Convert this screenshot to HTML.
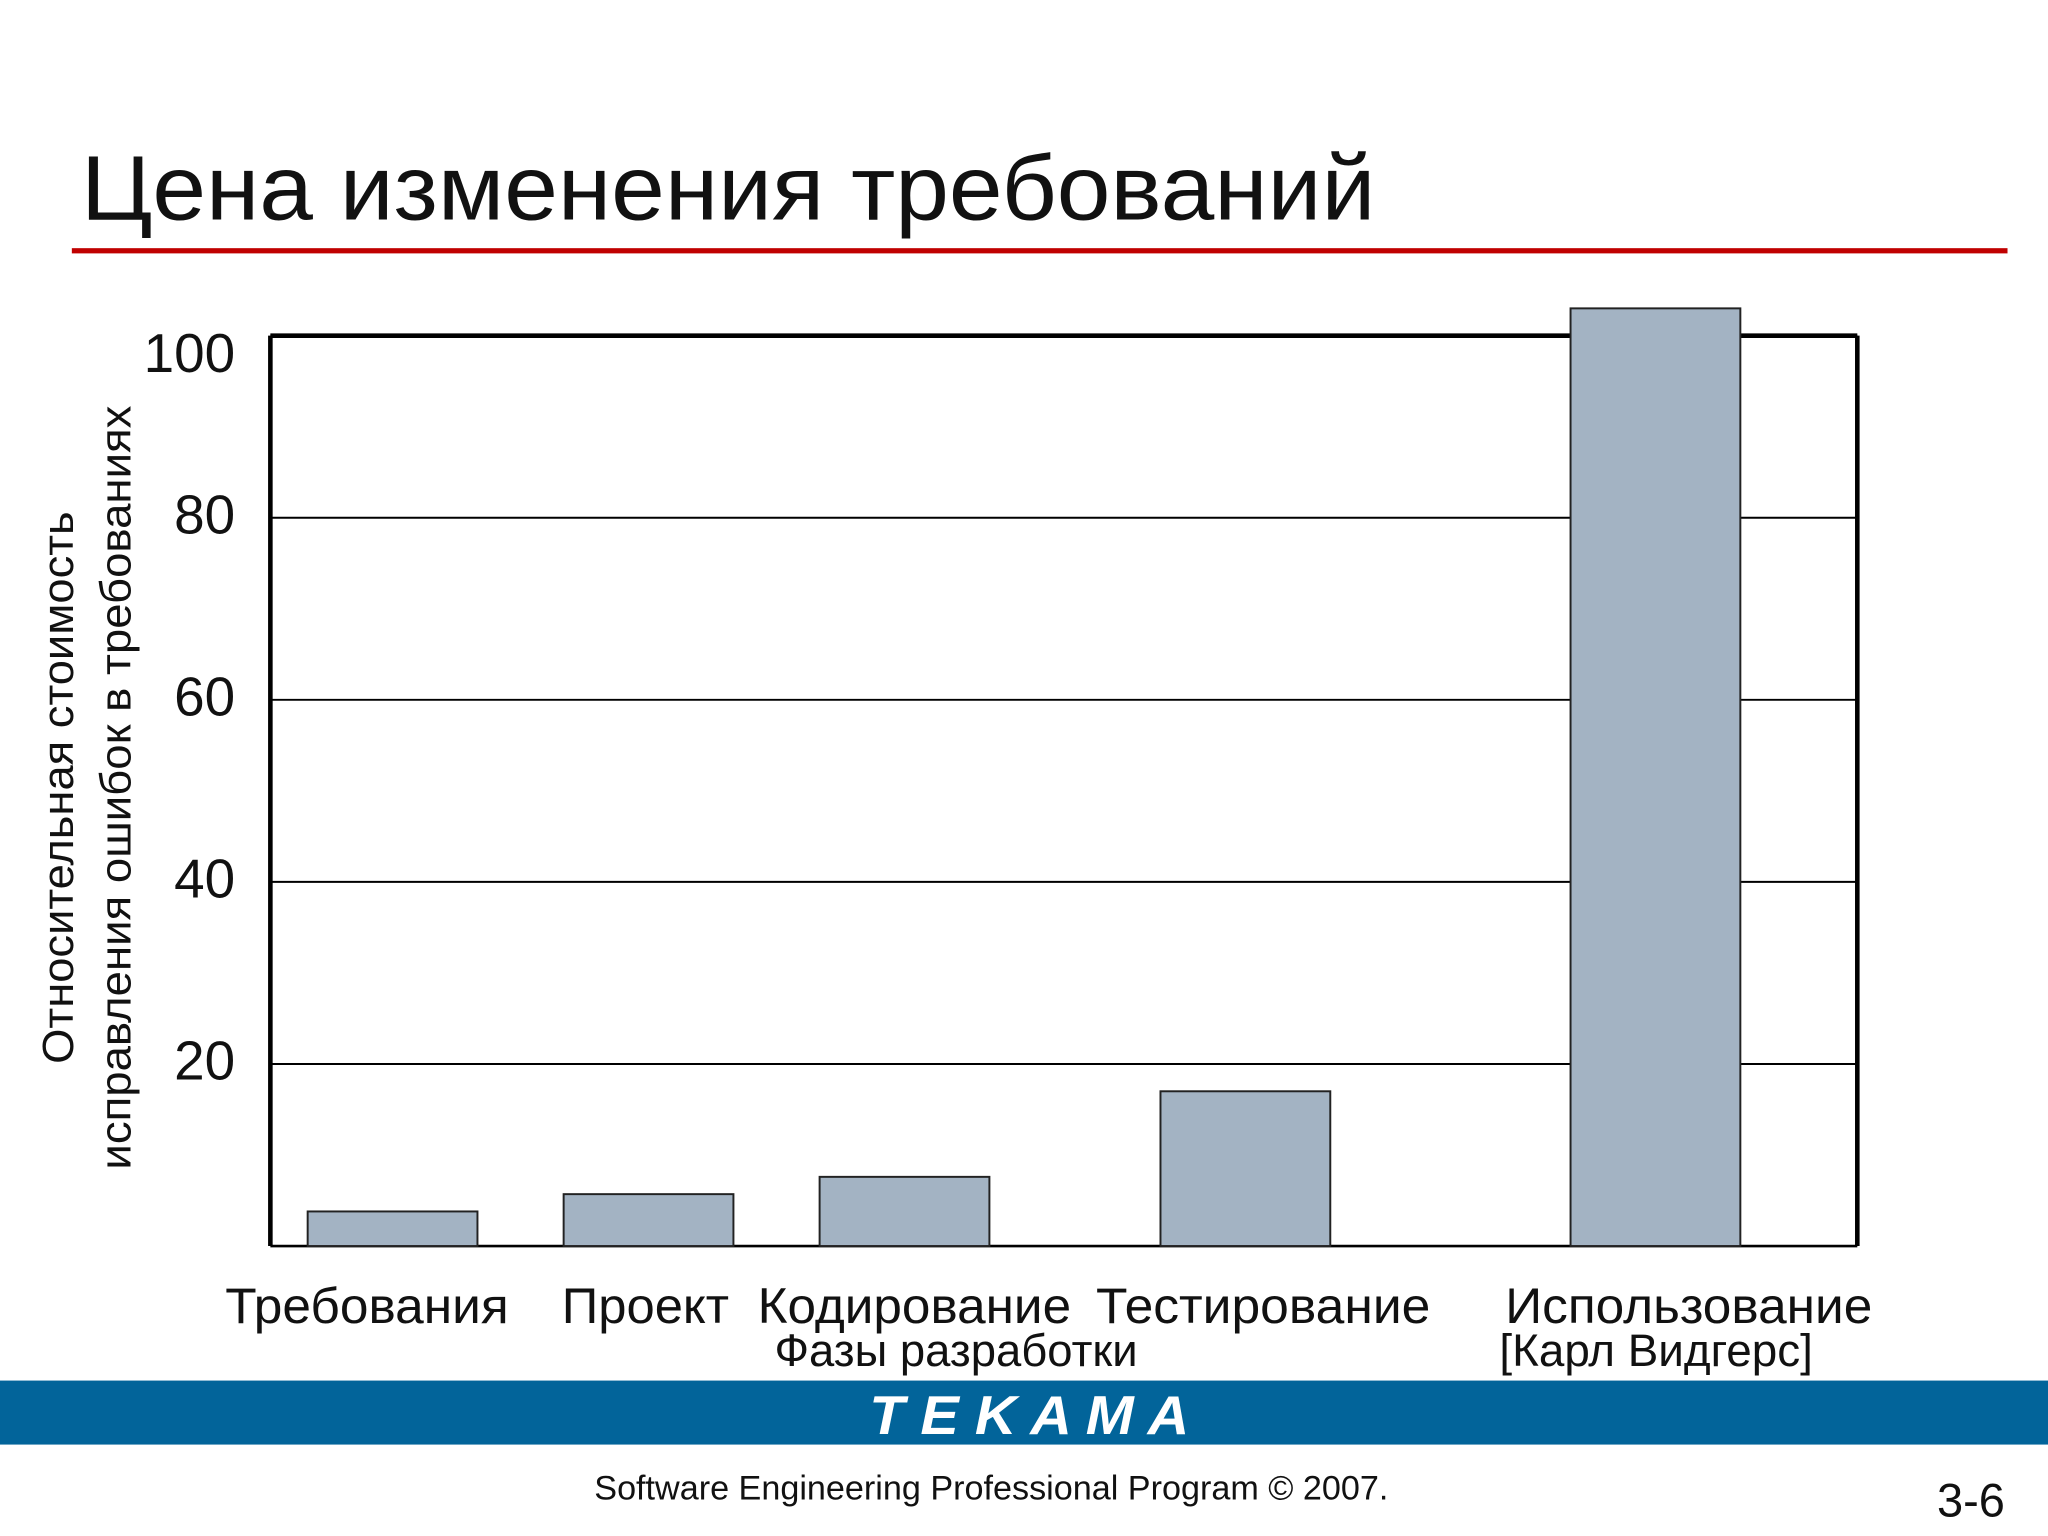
<!DOCTYPE html>
<html><head><meta charset="utf-8">
<style>
html,body{margin:0;padding:0;background:#fff;}
svg{display:block;font-family:"Liberation Sans",sans-serif;}
</style></head>
<body>
<svg id="chart" width="2048" height="1536" viewBox="0 0 1568 1176">
  <text x="62" y="168" font-size="70" fill="#111" textLength="991" lengthAdjust="spacingAndGlyphs">Цена изменения требований</text>
  <rect x="55" y="190" width="1482" height="4" fill="#c00000"/>
  <g id="grid"></g>
  <g id="frame"></g>
  <g id="bars"></g>
  <g id="yticks"></g>
  <g id="xlabels"></g>
  <g transform="translate(0,603) rotate(-90)">
    <text x="0" y="56" text-anchor="middle" font-size="33" fill="#111" textLength="423" lengthAdjust="spacingAndGlyphs">Относительная стоимость</text>
    <text x="0" y="100" text-anchor="middle" font-size="33" fill="#111" textLength="585" lengthAdjust="spacingAndGlyphs">исправления ошибок в требованиях</text>
  </g>
  <text x="732" y="1046" text-anchor="middle" font-size="35" fill="#111" textLength="278" lengthAdjust="spacingAndGlyphs">Фазы разработки</text>
  <text x="1268" y="1046" text-anchor="middle" font-size="35" fill="#111" textLength="240" lengthAdjust="spacingAndGlyphs">[Карл Видгерс]</text>
  <rect x="0" y="1057" width="1568" height="49" fill="#02649a"/>
  <text x="788" y="1098" text-anchor="middle" font-size="42" font-weight="bold" font-style="italic" fill="#fff" textLength="245" lengthAdjust="spacingAndGlyphs">T E K A M A</text>
  <text x="759" y="1148" text-anchor="middle" font-size="26" fill="#111" textLength="608" lengthAdjust="spacingAndGlyphs">Software Engineering Professional Program © 2007.</text>
  <text x="1535" y="1161" text-anchor="end" font-size="36" fill="#111">3-6</text>
</svg>
<script>
const categories = ["Требования","Проект","Кодирование","Тестирование","Использование"];
const values = [3.8, 5.7, 7.6, 17, 103];
const yTicks = [20, 40, 60, 80, 100];
const yTickLabels = ["20","40","60","80","100"];

const NS = "http://www.w3.org/2000/svg";
const plot = {left:207, right:1422, top:257, bottom:954};
const yMax = 100;
function yScale(v){ return plot.bottom - (v / yMax) * (plot.bottom - plot.top); }
const slotFrac = [0.0770, 0.2383, 0.3996, 0.6144, 0.8728];
const labelFrac = [0.0609, 0.2363, 0.4058, 0.6256, 0.8938];
const labelLen = [217, 128, 240, 256, 281];
function xScale(i){ return plot.left + slotFrac[i] * (plot.right - plot.left); }
const barW = 130;

function mk(tag, attrs, parent){
  const e = document.createElementNS(NS, tag);
  for (const k in attrs) e.setAttribute(k, attrs[k]);
  parent.appendChild(e); return e;
}
const grid = document.getElementById('grid');
yTicks.forEach(function(t){
  const l = mk('line', {x1:plot.left, x2:plot.right, y1:yScale(t), y2:yScale(t), stroke:'#000', 'stroke-width':1.5}, grid);
  
  
});
const yt = document.getElementById('yticks');
yTicks.forEach(function(t, i){
  const tx = mk('text', {x:180, y:yScale(t) + (t===100 ? 28 : 12), 'text-anchor':'end', 'font-size':42, fill:'#111'}, yt);
  tx.textContent = yTickLabels[i];
  
  
});
const fr = document.getElementById('frame');
const fl = [[plot.left,plot.top,plot.right,plot.top],[plot.left,plot.top,plot.left,plot.bottom],[plot.right,plot.top,plot.right,plot.bottom],[plot.left,plot.bottom,plot.right,plot.bottom]];
fl.forEach(function(s, i){
  const l = mk('line', {x1:s[0], y1:s[1], x2:s[2], y2:s[3], stroke:'#000', 'stroke-width':i===3?2:3.5}, fr);
  
  
});
const bars = document.getElementById('bars');
const xl = document.getElementById('xlabels');
values.forEach(function(v, i){
  const cx = xScale(i);
  const r = mk('rect', {x:cx - barW/2, y:yScale(v), width:barW, height:plot.bottom - yScale(v), fill:'#a3b3c3', stroke:'#222', 'stroke-width':1.5}, bars);
  
  
  const lx = plot.left + labelFrac[i] * (plot.right - plot.left);
  const tx = mk('text', {x:lx, y:1013, 'text-anchor':'middle', 'font-size':38, fill:'#111', textLength:labelLen[i], lengthAdjust:'spacingAndGlyphs'}, xl);
  tx.textContent = categories[i];
  
  
});
</script>
</body></html>
